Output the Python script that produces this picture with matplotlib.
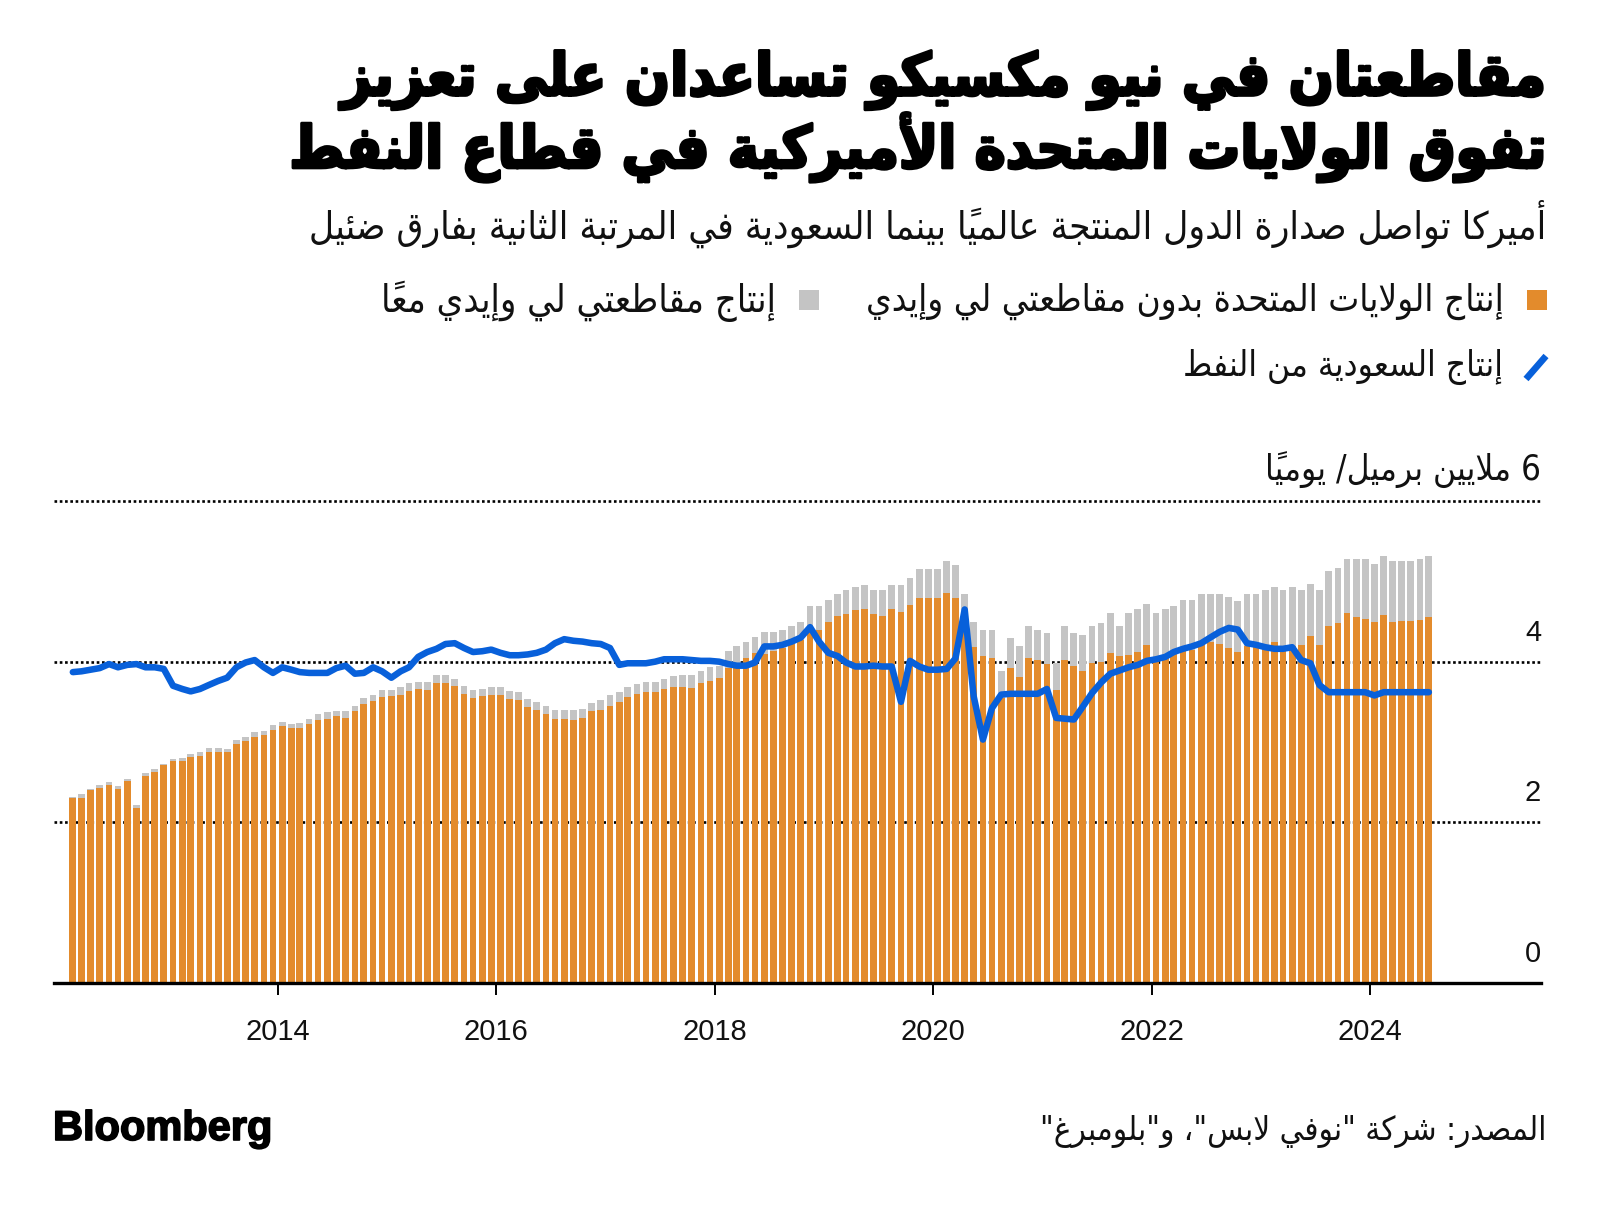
import numpy as np
import pandas as pd
import matplotlib
matplotlib.use("Agg")
import matplotlib.pyplot as plt
import matplotlib.dates as mdates
import matplotlib.transforms as mtransforms
import matplotlib.patheffects as pe
from matplotlib.patches import Rectangle
from matplotlib.lines import Line2D

# ---------------- data ----------------
first_month = "2012-02-01"
us_excl_lea_eddy = [
    2.30, 2.30, 2.40, 2.43, 2.47, 2.42, 2.51, 2.18, 2.58, 2.63,
    2.71, 2.76, 2.76, 2.81, 2.82, 2.88, 2.88, 2.87, 2.98, 3.01,
    3.06, 3.09, 3.15, 3.20, 3.17, 3.17, 3.22, 3.28, 3.29, 3.32,
    3.30, 3.39, 3.47, 3.51, 3.56, 3.57, 3.59, 3.64, 3.66, 3.65,
    3.74, 3.74, 3.70, 3.60, 3.55, 3.57, 3.59, 3.59, 3.54, 3.52,
    3.43, 3.40, 3.35, 3.29, 3.29, 3.28, 3.30, 3.38, 3.40, 3.45,
    3.50, 3.56, 3.60, 3.62, 3.62, 3.66, 3.69, 3.69, 3.67, 3.73,
    3.76, 3.80, 3.92, 3.94, 4.04, 4.11, 4.10, 4.13, 4.17, 4.22,
    4.27, 4.43, 4.40, 4.49, 4.57, 4.59, 4.64, 4.66, 4.59, 4.57,
    4.65, 4.62, 4.70, 4.79, 4.79, 4.79, 4.85, 4.79, 4.48, 4.18,
    4.07, 4.04, 3.55, 3.92, 3.81, 4.04, 4.02, 3.97, 3.65, 4.02,
    3.94, 3.88, 3.98, 4.00, 4.11, 4.07, 4.08, 4.12, 4.21, 4.06,
    4.08, 4.11, 4.13, 4.15, 4.23, 4.24, 4.22, 4.17, 4.12, 4.19,
    4.19, 4.20, 4.25, 4.20, 4.20, 4.21, 4.32, 4.21, 4.45, 4.48,
    4.60, 4.56, 4.53, 4.50, 4.58, 4.49, 4.51, 4.51, 4.52, 4.55,
]
lea_eddy = [
    0.01, 0.05, 0.02, 0.03, 0.03, 0.03, 0.03, 0.03, 0.04, 0.04,
    0.02, 0.03, 0.04, 0.04, 0.05, 0.05, 0.05, 0.04, 0.05, 0.05,
    0.06, 0.05, 0.06, 0.05, 0.06, 0.07, 0.07, 0.07, 0.08, 0.07,
    0.08, 0.06, 0.08, 0.08, 0.09, 0.08, 0.10, 0.10, 0.09, 0.10,
    0.10, 0.10, 0.09, 0.10, 0.10, 0.09, 0.10, 0.10, 0.10, 0.10,
    0.10, 0.10, 0.10, 0.11, 0.11, 0.12, 0.11, 0.11, 0.12, 0.13,
    0.12, 0.13, 0.12, 0.13, 0.13, 0.12, 0.13, 0.15, 0.17, 0.16,
    0.17, 0.15, 0.21, 0.26, 0.21, 0.20, 0.27, 0.24, 0.23, 0.23,
    0.22, 0.26, 0.29, 0.28, 0.27, 0.30, 0.29, 0.30, 0.30, 0.32,
    0.31, 0.34, 0.34, 0.36, 0.36, 0.36, 0.40, 0.41, 0.36, 0.31,
    0.33, 0.36, 0.34, 0.37, 0.39, 0.41, 0.38, 0.39, 0.33, 0.43,
    0.42, 0.45, 0.47, 0.48, 0.49, 0.38, 0.52, 0.53, 0.51, 0.54,
    0.57, 0.58, 0.64, 0.62, 0.61, 0.60, 0.62, 0.63, 0.64, 0.65,
    0.65, 0.69, 0.68, 0.69, 0.73, 0.68, 0.65, 0.68, 0.68, 0.69,
    0.68, 0.72, 0.75, 0.71, 0.74, 0.76, 0.74, 0.74, 0.76, 0.77,
]
saudi = [
    3.87, 3.88, 3.90, 3.92, 3.97, 3.93, 3.96, 3.97, 3.93, 3.93,
    3.91, 3.70, 3.66, 3.63, 3.66, 3.71, 3.76, 3.80, 3.93, 3.99,
    4.02, 3.93, 3.86, 3.93, 3.90, 3.87, 3.86, 3.86, 3.86, 3.92,
    3.95, 3.85, 3.86, 3.93, 3.88, 3.80, 3.88, 3.93, 4.06, 4.12,
    4.16, 4.22, 4.23, 4.17, 4.12, 4.13, 4.15, 4.11, 4.08, 4.08,
    4.09, 4.11, 4.15, 4.23, 4.28, 4.26, 4.25, 4.23, 4.22, 4.17,
    3.96, 3.98, 3.98, 3.98, 4.00, 4.03, 4.03, 4.03, 4.02, 4.01,
    4.01, 4.00, 3.97, 3.95, 3.95, 3.99, 4.19, 4.19, 4.21, 4.25,
    4.30, 4.43, 4.25, 4.11, 4.07, 3.99, 3.94, 3.94, 3.95, 3.94,
    3.94, 3.50, 4.01, 3.94, 3.90, 3.90, 3.91, 4.04, 4.65, 3.57,
    3.03, 3.42, 3.59, 3.60, 3.60, 3.60, 3.60, 3.66, 3.30, 3.29,
    3.28, 3.44, 3.61, 3.74, 3.85, 3.89, 3.93, 3.96, 4.01, 4.03,
    4.06, 4.12, 4.16, 4.19, 4.23, 4.30, 4.37, 4.42, 4.40, 4.23,
    4.21, 4.18, 4.16, 4.16, 4.18, 4.02, 3.98, 3.71, 3.62, 3.62,
    3.62, 3.62, 3.62, 3.58, 3.62, 3.62, 3.62, 3.62, 3.62, 3.62,
]
x_tick_years = [2014, 2016, 2018, 2020, 2022, 2024]
y_tick_values = [0, 2, 4]
y_top_value = 6

title_lines = ["مقاطعتان في نيو مكسيكو تساعدان على تعزيز",
               "تفوق الولايات المتحدة الأميركية في قطاع النفط"]
subtitle = "أميركا تواصل صدارة الدول المنتجة عالمياً بينما السعودية في المرتبة الثانية بفارق ضئيل"
legend_us = "إنتاج الولايات المتحدة بدون مقاطعتي لي وإيدي"
legend_le = "إنتاج مقاطعتي لي وإيدي معاً"
legend_sa = "إنتاج السعودية من النفط"
unit_label = "6 ملايين برميل/ يومياً"
source = 'المصدر: شركة "نوفي لابس"، و"بلومبرغ"'
logo = "Bloomberg"

ORANGE = "#E38B2C"
GRAY = "#C4C4C4"
BLUE = "#0860DA"

# ---------------- Arabic shaping (presentation forms + RTL order) ----------------
_DUAL = {0x0626: 0xFE89, 0x0628: 0xFE8F, 0x062A: 0xFE95, 0x062B: 0xFE99, 0x062C: 0xFE9D,
         0x062D: 0xFEA1, 0x062E: 0xFEA5, 0x0633: 0xFEB1, 0x0634: 0xFEB5, 0x0635: 0xFEB9,
         0x0636: 0xFEBD, 0x0637: 0xFEC1, 0x0638: 0xFEC5, 0x0639: 0xFEC9, 0x063A: 0xFECD,
         0x0641: 0xFED1, 0x0642: 0xFED5, 0x0643: 0xFED9, 0x0644: 0xFEDD, 0x0645: 0xFEE1,
         0x0646: 0xFEE5, 0x0647: 0xFEE9, 0x064A: 0xFEF1}
_RIGHT = {0x0622: 0xFE81, 0x0623: 0xFE83, 0x0624: 0xFE85, 0x0625: 0xFE87, 0x0627: 0xFE8D,
          0x0629: 0xFE93, 0x062F: 0xFEA9, 0x0630: 0xFEAB, 0x0631: 0xFEAD, 0x0632: 0xFEAF,
          0x0648: 0xFEED, 0x0649: 0xFEEF}
_LAMALEF = {0x0622: 0xFEF5, 0x0623: 0xFEF7, 0x0625: 0xFEF9, 0x0627: 0xFEFB}


def _is_mark(c):
    return 0x064B <= c <= 0x0652 or c == 0x0670


def ar(s):
    items = []
    i = 0
    n = len(s)
    while i < n:
        c = ord(s[i])
        if _is_mark(c) and items:
            items[-1]["marks"] += s[i]
            i += 1
            continue
        if c == 0x0644:
            j = i + 1
            mk = ""
            while j < n and _is_mark(ord(s[j])):
                mk += s[j]
                j += 1
            if j < n and ord(s[j]) in _LAMALEF:
                b = _LAMALEF[ord(s[j])]
                items.append({"t": "R", "f": (b, b + 1), "marks": mk})
                i = j + 1
                continue
        if c in _DUAL:
            b = _DUAL[c]
            items.append({"t": "D", "f": (b, b + 1, b + 2, b + 3), "marks": ""})
        elif c in _RIGHT:
            b = _RIGHT[c]
            items.append({"t": "R", "f": (b, b + 1), "marks": ""})
        elif c == 0x0621:
            items.append({"t": "U", "f": (0xFE80,), "marks": ""})
        else:
            items.append({"t": "N", "ch": s[i], "marks": ""})
        i += 1
    clusters = []
    for k, it in enumerate(items):
        if it["t"] == "N":
            clusters.append(it["ch"] + it["marks"])
            continue
        prev = items[k - 1] if k > 0 else None
        nxt = items[k + 1] if k + 1 < len(items) else None
        jp = it["t"] in "DR" and prev is not None and prev["t"] == "D"
        jn = it["t"] == "D" and nxt is not None and nxt["t"] in "DR"
        f = it["f"]
        if it["t"] == "U":
            g = f[0]
        elif jp and jn:
            g = f[3]
        elif jp:
            g = f[1]
        elif jn:
            g = f[2]
        else:
            g = f[0]
        clusters.append(chr(g) + it["marks"])
    runs = []
    for c in clusters:
        ltr = c[0].isascii() and c[0].isalnum()
        if runs and runs[-1][0] == ltr:
            runs[-1][1].append(c)
        else:
            runs.append([ltr, [c]])
    vis = []
    for ltr, cl in reversed(runs):
        vis.extend(cl if ltr else reversed(cl))
    return "".join(vis)


# ---------------- figure ----------------
W, H = 1600, 1205
fig = plt.figure(figsize=(W / 100, H / 100), dpi=100)
fig.patch.set_facecolor("white")


def fx(x):
    return x / W


def fy(y):
    return 1 - y / H


def fit_width(t, target):
    r = fig.canvas.get_renderer()
    for _ in range(3):
        w = t.get_window_extent(renderer=r).width
        if w <= 0:
            break
        t.set_fontsize(t.get_fontsize() * target / w)


AR = ["DejaVu Sans"]
NUM = ["Liberation Sans", "DejaVu Sans"]
heavy = [pe.withStroke(linewidth=2.2, foreground="black")]

# title
t1 = fig.text(fx(1546), fy(80), ar(title_lines[0]), ha="right", va="center",
              family=AR, weight="bold", stretch="condensed", fontsize=40, color="black",
              path_effects=heavy)
t2 = fig.text(fx(1546), fy(147), ar(title_lines[1]), ha="right", va="center",
              family=AR, weight="bold", stretch="condensed", fontsize=40, color="black",
              path_effects=heavy)
fit_width(t1, 1207)
fit_width(t2, 1258)

st = fig.text(fx(1546), fy(224), ar(subtitle), ha="right", va="center",
              family=AR, stretch="condensed", fontsize=24, color="#111111")
fit_width(st, 1238)

# legend
fig.patches.append(Rectangle((fx(1527), fy(310)), fx(20), 20 / H, transform=fig.transFigure,
                             facecolor=ORANGE, edgecolor="none"))
fig.patches.append(Rectangle((fx(799), fy(310)), fx(20), 20 / H, transform=fig.transFigure,
                             facecolor=GRAY, edgecolor="none"))
fig.lines.append(Line2D([fx(1526), fx(1546)], [fy(379), fy(356)], transform=fig.transFigure,
                        color=BLUE, lw=4.8, solid_capstyle="butt"))
l1 = fig.text(fx(1504), fy(301), ar(legend_us), ha="right", va="center",
              family=AR, stretch="condensed", fontsize=20, color="#111111")
l2 = fig.text(fx(776), fy(301), ar(legend_le), ha="right", va="center",
              family=AR, stretch="condensed", fontsize=20, color="#111111")
l3 = fig.text(fx(1503), fy(367), ar(legend_sa), ha="right", va="center",
              family=AR, stretch="condensed", fontsize=20, color="#111111")
fit_width(l1, 638)
fit_width(l2, 395)
fit_width(l3, 319)

# axes
ax_left, ax_right, ax_bottom, ax_top = 54, 1541, 983, 501
ax = fig.add_axes([fx(ax_left), fy(ax_bottom), (ax_right - ax_left) / W, (ax_bottom - ax_top) / H])
ax.set_facecolor("none")

months = pd.date_range(first_month, periods=len(us_excl_lea_eddy), freq="MS")
centers = mdates.date2num(months + pd.Timedelta(days=15))
us_arr = np.array(us_excl_lea_eddy)
le_arr = np.array(lea_eddy)

ax.bar(centers, us_arr, width=22.5, color=ORANGE, linewidth=0, zorder=2)
ax.bar(centers, le_arr, bottom=us_arr, width=22.5, color=GRAY, linewidth=0, zorder=2)
ax.plot(centers, saudi, color=BLUE, lw=4.7, solid_joinstyle="round",
        solid_capstyle="round", zorder=4)

ax.set_ylim(0, y_top_value)
x_left = mdates.date2num(pd.Timestamp("2011-12-15"))
x_right = mdates.date2num(pd.Timestamp("2025-07-26"))
ax.set_xlim(x_left, x_right)

for v in y_tick_values[1:] + [y_top_value]:
    ax.axhline(v, color="black", lw=1.9, ls=(0, (1, 1.0)), zorder=1, clip_on=False)
ax.axhline(0, color="black", lw=2.4, zorder=3, clip_on=False)

for s in ax.spines.values():
    s.set_visible(False)
ax.set_yticks([])
xt = mdates.date2num([pd.Timestamp(f"{y}-01-01") for y in x_tick_years])
ax.set_xticks(xt)
ax.set_xticklabels([str(y) for y in x_tick_years], family=NUM, fontsize=21, color="#111111")
ax.tick_params(axis="x", length=8.5, width=1.4, color="black", pad=17)

ylab_tr = mtransforms.blended_transform_factory(ax.transAxes, ax.transData) + \
    mtransforms.ScaledTranslation(0, 21 / 100, fig.dpi_scale_trans)
for v in y_tick_values:
    ax.text(1.0, v, str(v), transform=ylab_tr, ha="right", va="baseline",
            family=NUM, fontsize=21, color="#111111")
ul = ax.text(1.0, y_top_value, ar(unit_label), transform=ylab_tr, ha="right", va="baseline",
             family=AR, stretch="condensed", fontsize=20, color="#111111")
fit_width(ul, 276)

# footer
bl = fig.text(fx(53), fy(1129), logo, ha="left", va="center", family=["Liberation Sans"],
              weight="bold", fontsize=28, color="black",
              path_effects=[pe.withStroke(linewidth=1.2, foreground="black")])
fit_width(bl, 219)
src = fig.text(fx(1546), fy(1131), ar(source), ha="right", va="center",
               family=AR, stretch="condensed", fontsize=18, color="#111111")
fit_width(src, 507)

fig.savefig("out.png", dpi=100, facecolor="white")
